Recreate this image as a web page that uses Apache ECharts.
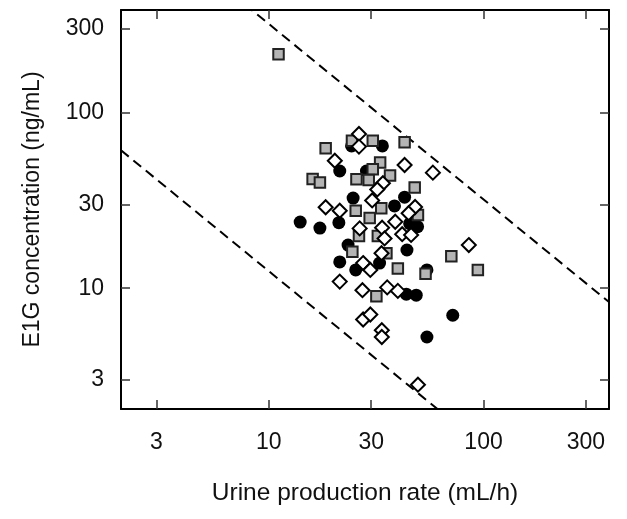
<!DOCTYPE html>
<html>
<head>
<meta charset="utf-8">
<script src="https://cdn.jsdelivr.net/npm/echarts@6/dist/echarts.min.js"></script>
<style>
  html, body { margin: 0; padding: 0; background: #fff; }
  #chart { width: 627px; height: 519px; }
</style>
</head>
<body>
<div id="chart"></div>
<script>
// axis ticks (real values, log axes)
const tickValues = [3, 10, 30, 100, 300];
const axisRange = [2.05, 384];

// dashed guide lines: concentration * rate = constant
const guideProducts = [125, 3200];

// [urine rate (mL/h), E1G (ng/mL)]
const circlePoints = [
  [24.3, 64.6], [33.8, 64.6], [21.4, 46.5], [28.5, 46.5], [24.7, 32.6],
  [42.9, 33.0], [38.5, 29.4], [45.3, 23.3], [49.3, 22.4], [14.0, 23.8],
  [17.3, 22.0], [21.2, 23.6], [23.4, 17.6], [21.4, 14.1], [32.8, 13.9],
  [25.4, 12.7], [44.0, 16.5], [54.5, 12.7], [43.7, 9.24], [48.6, 9.12],
  [71.9, 7.01], [54.5, 5.27]
];

const squarePoints = [
  [11.1, 215], [18.4, 62.6], [24.4, 69.2], [30.5, 69.2], [42.9, 67.8],
  [33.0, 52.0], [30.5, 47.6], [36.7, 43.8], [25.6, 41.7], [29.2, 41.3],
  [16.0, 41.9], [17.3, 40.0], [47.8, 37.4], [33.4, 28.5], [25.4, 27.6],
  [49.5, 26.1], [29.5, 25.1], [32.2, 19.8], [26.3, 19.8], [24.5, 16.1],
  [35.3, 15.8], [31.7, 9.0], [39.9, 12.95], [53.7, 12.1], [70.8, 15.2],
  [94.1, 12.7]
];

const diamondPoints = [
  [26.3, 75.6], [26.3, 64.0], [20.3, 53.2], [42.9, 50.3], [58.1, 45.5],
  [34.0, 39.6], [32.0, 36.5], [30.3, 31.6], [18.4, 28.9], [21.4, 27.6],
  [48.0, 29.0], [44.8, 26.7], [38.8, 23.9], [33.7, 22.1], [26.5, 21.9],
  [41.8, 20.3], [46.0, 20.1], [34.6, 19.2], [33.5, 15.8], [27.5, 13.9],
  [29.7, 12.7], [21.4, 10.9], [27.3, 9.74], [35.6, 10.1], [39.9, 9.65],
  [27.5, 6.63], [29.7, 7.08], [33.6, 5.76], [33.6, 5.27], [85.4, 17.6],
  [49.5, 2.82]
];

const lg = v => Math.log10(v);
const toLog = pts => pts.map(p => [lg(p[0]), lg(p[1])]);

const fontFamily = 'Liberation Sans, Arial, sans-serif';
const logMin = lg(axisRange[0]);
const logMax = lg(axisRange[1]);
const tickLogs = tickValues.map(lg);

function labelStyle(margin) {
  return {
    show: true,
    customValues: tickLogs,
    color: '#111',
    fontSize: 23,
    fontFamily: fontFamily,
    margin: margin,
    formatter: v => String(Math.round(Math.pow(10, v))),
  };
}

function makeAxis(opts) {
  return Object.assign({
    type: 'value',
    min: logMin,
    max: logMax,
    splitLine: { show: false },
    axisLine: { show: true, onZero: false, lineStyle: { color: '#000', width: 2 } },
    axisTick: {
      show: true,
      inside: true,
      length: 9,
      customValues: tickLogs,
      lineStyle: { color: '#333', width: 1.5 },
    },
    axisLabel: { show: false },
  }, opts);
}

const guideSeries = guideProducts.map(k => ({
  type: 'line',
  xAxisIndex: 0,
  yAxisIndex: 0,
  data: [[logMin, lg(k) - logMin], [logMax, lg(k) - logMax]],
  symbol: 'none',
  clip: true,
  silent: true,
  lineStyle: { color: '#000', width: 2, type: [10, 6] },
  z: 1,
}));

const chart = echarts.init(document.getElementById('chart'), null, { renderer: 'canvas' });

chart.setOption({
  animation: false,
  backgroundColor: '#fff',
  grid: { left: 121, right: 18, top: 10, bottom: 110 },
  xAxis: [
    makeAxis({
      position: 'bottom',
      name: 'Urine production rate (mL/h)',
      nameLocation: 'middle',
      nameGap: 72,
      nameTextStyle: { fontSize: 24.5, color: '#111', fontFamily: fontFamily },
      axisLabel: labelStyle(22),
    }),
    makeAxis({ position: 'top' }),
  ],
  yAxis: [
    makeAxis({
      position: 'left',
      name: 'E1G concentration (ng/mL)',
      nameLocation: 'middle',
      nameGap: 77,
      nameRotate: 90,
      nameTextStyle: { fontSize: 23, color: '#111', fontFamily: fontFamily },
      axisLabel: labelStyle(17),
    }),
    makeAxis({ position: 'right' }),
  ],
  series: guideSeries.concat([
    {
      type: 'scatter',
      data: toLog(circlePoints),
      symbol: 'circle',
      symbolSize: 13,
      itemStyle: { color: '#000', opacity: 1 },
      z: 2,
    },
    {
      type: 'scatter',
      data: toLog(squarePoints),
      symbol: 'rect',
      symbolSize: 10.5,
      itemStyle: { color: '#b4b4b4', borderColor: '#222', borderWidth: 2, opacity: 1 },
      z: 3,
    },
    {
      type: 'scatter',
      data: toLog(diamondPoints),
      symbol: 'diamond',
      symbolSize: 14,
      itemStyle: { color: '#fff', borderColor: '#000', borderWidth: 2, opacity: 1 },
      z: 4,
    },
  ]),
});
</script>
</body>
</html>
